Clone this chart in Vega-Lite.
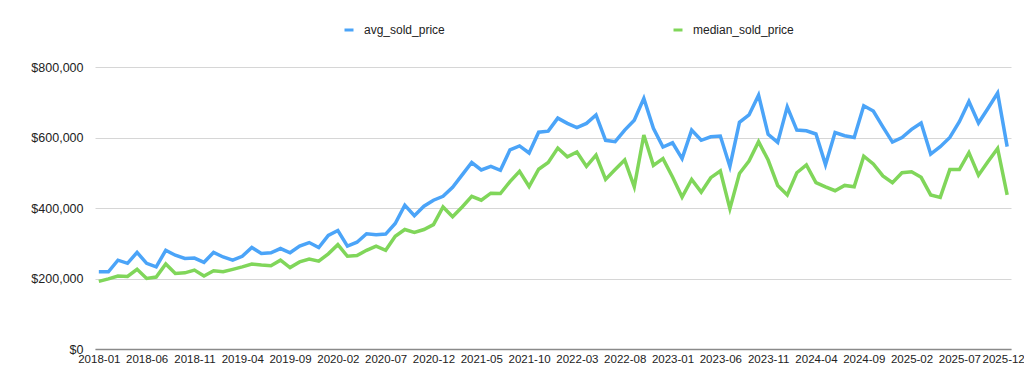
{
  "$schema": "https://vega.github.io/schema/vega-lite/v6.json",
  "autosize": "none",
  "width": 916,
  "height": 282,
  "padding": {"left": 95, "top": 67, "right": 13, "bottom": 40},
  "background": "white",
  "config": {"font": "Liberation Sans", "view": {"stroke": null}},
  "data": {"values": [
    {"month":"2018-01","avg_sold_price":219000,"median_sold_price":192000},
    {"month":"2018-02","avg_sold_price":219000,"median_sold_price":199000},
    {"month":"2018-03","avg_sold_price":252000,"median_sold_price":207000},
    {"month":"2018-04","avg_sold_price":243000,"median_sold_price":206000},
    {"month":"2018-05","avg_sold_price":274000,"median_sold_price":226000},
    {"month":"2018-06","avg_sold_price":243000,"median_sold_price":200000},
    {"month":"2018-07","avg_sold_price":233000,"median_sold_price":204000},
    {"month":"2018-08","avg_sold_price":280000,"median_sold_price":241000},
    {"month":"2018-09","avg_sold_price":266000,"median_sold_price":214000},
    {"month":"2018-10","avg_sold_price":257000,"median_sold_price":216000},
    {"month":"2018-11","avg_sold_price":258000,"median_sold_price":224000},
    {"month":"2018-12","avg_sold_price":246000,"median_sold_price":207000},
    {"month":"2019-01","avg_sold_price":274000,"median_sold_price":222000},
    {"month":"2019-02","avg_sold_price":261000,"median_sold_price":219000},
    {"month":"2019-03","avg_sold_price":252000,"median_sold_price":226000},
    {"month":"2019-04","avg_sold_price":263000,"median_sold_price":233000},
    {"month":"2019-05","avg_sold_price":288000,"median_sold_price":241000},
    {"month":"2019-06","avg_sold_price":271000,"median_sold_price":238000},
    {"month":"2019-07","avg_sold_price":273000,"median_sold_price":236000},
    {"month":"2019-08","avg_sold_price":285000,"median_sold_price":252000},
    {"month":"2019-09","avg_sold_price":273000,"median_sold_price":231000},
    {"month":"2019-10","avg_sold_price":292000,"median_sold_price":247000},
    {"month":"2019-11","avg_sold_price":302000,"median_sold_price":255000},
    {"month":"2019-12","avg_sold_price":288000,"median_sold_price":249000},
    {"month":"2020-01","avg_sold_price":322000,"median_sold_price":270000},
    {"month":"2020-02","avg_sold_price":336000,"median_sold_price":296000},
    {"month":"2020-03","avg_sold_price":292000,"median_sold_price":263000},
    {"month":"2020-04","avg_sold_price":303000,"median_sold_price":265000},
    {"month":"2020-05","avg_sold_price":327000,"median_sold_price":280000},
    {"month":"2020-06","avg_sold_price":324000,"median_sold_price":292000},
    {"month":"2020-07","avg_sold_price":326000,"median_sold_price":280000},
    {"month":"2020-08","avg_sold_price":356000,"median_sold_price":320000},
    {"month":"2020-09","avg_sold_price":408000,"median_sold_price":339000},
    {"month":"2020-10","avg_sold_price":378000,"median_sold_price":331000},
    {"month":"2020-11","avg_sold_price":405000,"median_sold_price":339000},
    {"month":"2020-12","avg_sold_price":422000,"median_sold_price":353000},
    {"month":"2021-01","avg_sold_price":433000,"median_sold_price":403000},
    {"month":"2021-02","avg_sold_price":459000,"median_sold_price":375000},
    {"month":"2021-03","avg_sold_price":494000,"median_sold_price":403000},
    {"month":"2021-04","avg_sold_price":529000,"median_sold_price":433000},
    {"month":"2021-05","avg_sold_price":508000,"median_sold_price":422000},
    {"month":"2021-06","avg_sold_price":518000,"median_sold_price":442000},
    {"month":"2021-07","avg_sold_price":507000,"median_sold_price":441000},
    {"month":"2021-08","avg_sold_price":565000,"median_sold_price":475000},
    {"month":"2021-09","avg_sold_price":576000,"median_sold_price":504000},
    {"month":"2021-10","avg_sold_price":556000,"median_sold_price":461000},
    {"month":"2021-11","avg_sold_price":615000,"median_sold_price":510000},
    {"month":"2021-12","avg_sold_price":618000,"median_sold_price":529000},
    {"month":"2022-01","avg_sold_price":655000,"median_sold_price":570000},
    {"month":"2022-02","avg_sold_price":640000,"median_sold_price":545000},
    {"month":"2022-03","avg_sold_price":628000,"median_sold_price":559000},
    {"month":"2022-04","avg_sold_price":640000,"median_sold_price":518000},
    {"month":"2022-05","avg_sold_price":664000,"median_sold_price":550000},
    {"month":"2022-06","avg_sold_price":592000,"median_sold_price":481000},
    {"month":"2022-07","avg_sold_price":588000,"median_sold_price":509000},
    {"month":"2022-08","avg_sold_price":621000,"median_sold_price":536000},
    {"month":"2022-09","avg_sold_price":649000,"median_sold_price":460000},
    {"month":"2022-10","avg_sold_price":711000,"median_sold_price":607000},
    {"month":"2022-11","avg_sold_price":626000,"median_sold_price":521000},
    {"month":"2022-12","avg_sold_price":573000,"median_sold_price":540000},
    {"month":"2023-01","avg_sold_price":585000,"median_sold_price":488000},
    {"month":"2023-02","avg_sold_price":540000,"median_sold_price":431000},
    {"month":"2023-03","avg_sold_price":621000,"median_sold_price":481000},
    {"month":"2023-04","avg_sold_price":592000,"median_sold_price":445000},
    {"month":"2023-05","avg_sold_price":602000,"median_sold_price":486000},
    {"month":"2023-06","avg_sold_price":604000,"median_sold_price":505000},
    {"month":"2023-07","avg_sold_price":518000,"median_sold_price":398000},
    {"month":"2023-08","avg_sold_price":643000,"median_sold_price":498000},
    {"month":"2023-09","avg_sold_price":664000,"median_sold_price":533000},
    {"month":"2023-10","avg_sold_price":720000,"median_sold_price":588000},
    {"month":"2023-11","avg_sold_price":609000,"median_sold_price":536000},
    {"month":"2023-12","avg_sold_price":586000,"median_sold_price":464000},
    {"month":"2024-01","avg_sold_price":687000,"median_sold_price":437000},
    {"month":"2024-02","avg_sold_price":621000,"median_sold_price":500000},
    {"month":"2024-03","avg_sold_price":619000,"median_sold_price":522000},
    {"month":"2024-04","avg_sold_price":610000,"median_sold_price":472000},
    {"month":"2024-05","avg_sold_price":523000,"median_sold_price":460000},
    {"month":"2024-06","avg_sold_price":614000,"median_sold_price":449000},
    {"month":"2024-07","avg_sold_price":605000,"median_sold_price":464000},
    {"month":"2024-08","avg_sold_price":600000,"median_sold_price":460000},
    {"month":"2024-09","avg_sold_price":690000,"median_sold_price":547000},
    {"month":"2024-10","avg_sold_price":675000,"median_sold_price":525000},
    {"month":"2024-11","avg_sold_price":630000,"median_sold_price":491000},
    {"month":"2024-12","avg_sold_price":587000,"median_sold_price":472000},
    {"month":"2025-01","avg_sold_price":600000,"median_sold_price":500000},
    {"month":"2025-02","avg_sold_price":623000,"median_sold_price":503000},
    {"month":"2025-03","avg_sold_price":641000,"median_sold_price":487000},
    {"month":"2025-04","avg_sold_price":553000,"median_sold_price":437000},
    {"month":"2025-05","avg_sold_price":574000,"median_sold_price":430000},
    {"month":"2025-06","avg_sold_price":600000,"median_sold_price":509000},
    {"month":"2025-07","avg_sold_price":645000,"median_sold_price":509000},
    {"month":"2025-08","avg_sold_price":702000,"median_sold_price":557000},
    {"month":"2025-09","avg_sold_price":641000,"median_sold_price":493000},
    {"month":"2025-10","avg_sold_price":683000,"median_sold_price":532000},
    {"month":"2025-11","avg_sold_price":726000,"median_sold_price":569000},
    {"month":"2025-12","avg_sold_price":574000,"median_sold_price":437000}
  ]},
  "transform": [{"fold": ["avg_sold_price", "median_sold_price"], "as": ["series", "value"]}],
  "mark": {"type": "line", "strokeWidth": 3.5},
  "encoding": {
    "x": {
      "field": "month", "type": "ordinal", "sort": null,
      "scale": {"type": "point", "padding": 0.4},
      "axis": {
        "title": null,
        "values": ["2018-01","2018-06","2018-11","2019-04","2019-09","2020-02","2020-07","2020-12","2021-05","2021-10","2022-03","2022-08","2023-01","2023-06","2023-11","2024-04","2024-09","2025-02","2025-07","2025-12"],
        "labelAngle": 0, "ticks": false, "grid": false,
        "domainColor": "#8a8a8a", "domainWidth": 1.5,
        "labelFontSize": 11.5, "labelColor": "#222222", "labelPadding": 4,
        "labelOffset": {"condition": {"test": "datum.value === '2025-12'", "value": -4}, "value": 0}
      }
    },
    "y": {
      "field": "value", "type": "quantitative",
      "scale": {"domain": [0, 800000]},
      "axis": {
        "title": null, "values": [0, 200000, 400000, 600000, 800000],
        "format": "$,.0f", "ticks": false, "domain": false,
        "gridColor": "#d6d6d6", "gridWidth": 1,
        "labelFontSize": 12.5, "labelColor": "#222222", "labelPadding": 12
      }
    },
    "color": {
      "field": "series", "type": "nominal",
      "scale": {"domain": ["avg_sold_price", "median_sold_price"], "range": ["#4BA4F8", "#80D65A"]},
      "legend": {
        "title": null, "orient": "none", "legendX": 248, "legendY": -43,
        "direction": "horizontal", "columnPadding": 222,
        "symbolType": "stroke", "symbolSize": 81, "symbolStrokeWidth": 3,
        "labelFontSize": 12, "labelColor": "#222222", "labelOffset": 9
      }
    }
  }
}
